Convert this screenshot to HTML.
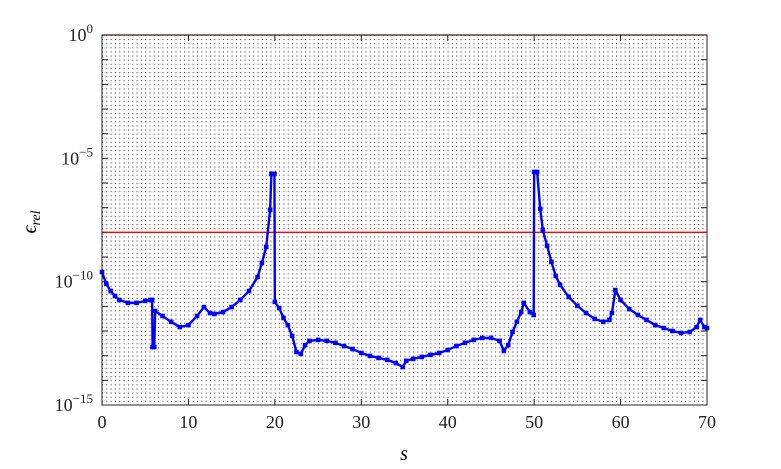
<!DOCTYPE html>
<html><head><meta charset="utf-8"><style>
html,body{margin:0;padding:0;background:#fff;}
svg{display:block;font-family:"Liberation Serif",serif;}
</style></head><body>
<svg id="chart" width="781" height="469" viewBox="0 0 781 469" xmlns="http://www.w3.org/2000/svg">
<defs>
<pattern id="dots" x="102" y="35" width="4.32" height="4.11" patternUnits="userSpaceOnUse">
<rect x="0" y="0" width="1" height="1" fill="#333"/>
</pattern>
</defs>
<rect x="102" y="35" width="605" height="370" fill="#fff"/>
<rect x="102" y="35" width="605" height="370" fill="url(#dots)"/>
<g id="axes"></g>
<g id="marks"></g>
<rect x="102" y="35" width="605" height="370" fill="none" stroke="#222" stroke-width="1"/>
<text x="404" y="460" font-size="20" font-style="italic" text-anchor="middle">s</text>
<text transform="translate(36,222) rotate(-90)" font-size="20" font-style="italic" text-anchor="middle">ϵ<tspan font-size="14" dy="4">rel</tspan></text>
</svg>
<script>
const sVals=[0,0.5,1,1.5,2,3,4,5,5.6,5.8,5.85,6.05,6.15,7,8,9,10,11,11.8,12.5,13,14,15,16,17,18,18.5,19,19.45,19.6,19.95,20.0,20.5,21,21.5,22,22.5,23,23.5,24,25,26,27,28,29,30,31,32,33,34,34.8,35.2,36,37,38,39,40,41,42,43,44,45,46,46.5,47,47.5,48,48.5,48.8,49.5,49.95,50.0,50.35,50.7,51,51.5,52,52.5,53,54,55,56,57,58,58.7,59,59.4,60,61,62,63,64,65,66,67,68,68.8,69.2,69.7,70];
const logErr=[-9.61,-10.09,-10.38,-10.58,-10.74,-10.86,-10.86,-10.78,-10.74,-10.74,-12.65,-12.65,-11.19,-11.39,-11.63,-11.84,-11.76,-11.39,-11.03,-11.27,-11.31,-11.23,-11.03,-10.74,-10.38,-9.81,-9.24,-8.59,-7.09,-5.63,-5.63,-10.82,-11.07,-11.47,-11.76,-12.2,-12.85,-12.93,-12.57,-12.4,-12.36,-12.4,-12.48,-12.61,-12.73,-12.89,-13.01,-13.09,-13.17,-13.3,-13.46,-13.21,-13.13,-13.05,-12.97,-12.89,-12.77,-12.61,-12.48,-12.36,-12.28,-12.28,-12.4,-12.81,-12.57,-12.04,-11.63,-11.23,-10.86,-11.23,-11.35,-5.55,-5.55,-7.05,-7.9,-8.55,-9.2,-9.77,-10.13,-10.62,-10.98,-11.27,-11.51,-11.63,-11.55,-11.27,-10.34,-10.74,-11.11,-11.35,-11.55,-11.76,-11.88,-12.0,-12.08,-12.04,-11.84,-11.55,-11.84,-11.88];
const xTicks=[0,10,20,30,40,50,60,70];
const yTicks=[0,-5,-10,-15];
const redLines=[0,-8];
const NS="http://www.w3.org/2000/svg";
const X=v=>102+v*(605/70);
const Y=l=>35+(-l)*(370/15);
const ax=document.getElementById('axes'),mk=document.getElementById('marks');
function el(t,a,p){const e=document.createElementNS(NS,t);for(const k in a)e.setAttribute(k,a[k]);p.appendChild(e);return e;}
xTicks.forEach(v=>{
 const l=el('line',{x1:X(v),x2:X(v),y1:405,y2:399,stroke:'#222'},ax);
 
 
 const l2=el('line',{x1:X(v),x2:X(v),y1:35,y2:41,stroke:'#222'},ax);
 
 
 const t=el('text',{x:X(v),y:428,'font-size':18,'text-anchor':'middle',fill:'#222'},ax);
 t.textContent=v;
 
 
});
for(let d=0;d>=-15;d--){
 const l=el('line',{x1:102,x2:108,y1:Y(d),y2:Y(d),stroke:'#222'},ax);
 
 
 const r=el('line',{x1:701,x2:707,y1:Y(d),y2:Y(d),stroke:'#222'},ax);
 
 
}
yTicks.forEach(d=>{
 const t=el('text',{x:93,y:Y(d)+6,'font-size':18,'text-anchor':'end',fill:'#222'},ax);
 t.textContent='10';
 const s=el('tspan',{'font-size':13,dy:-8},t);s.textContent=String(d).replace('-','−');
 
 
});
redLines.forEach(d=>{
 const l=el('line',{x1:102,x2:707,y1:Y(d),y2:Y(d),stroke:'#f00','stroke-width':1.3},mk);
 
 
});
let p='';
for(let i=0;i<sVals.length;i++){
 const x=X(sVals[i]),y=Y(logErr[i]);
 p+=(i===0?'M':' L')+x+' '+y;
}
const path=el('path',{d:p,fill:'none',stroke:'#00f','stroke-width':2.4,'stroke-linejoin':'round'},mk);


for(let i=0;i<sVals.length;i++){
 const r=el('rect',{x:X(sVals[i])-2.3,y:Y(logErr[i])-2.3,width:4.6,height:4.6,fill:'#00f'},mk);
 
 
}
</script>
</body></html>
